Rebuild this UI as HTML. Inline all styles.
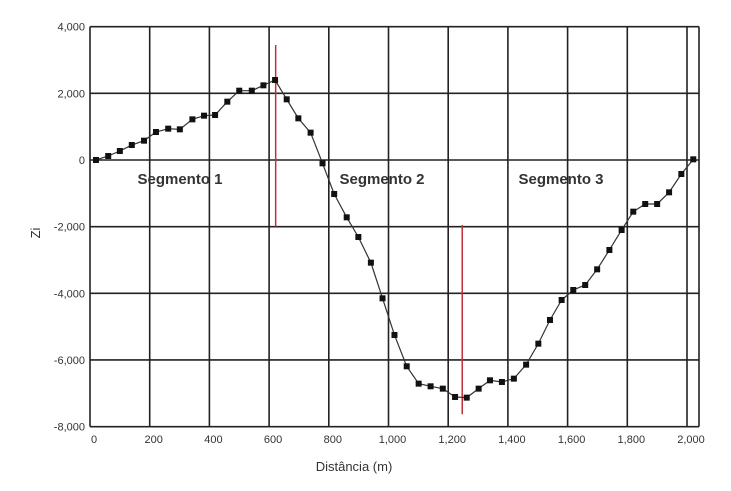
<!DOCTYPE html>
<html><head><meta charset="utf-8"><style>
body{margin:0;background:#fff;width:731px;height:486px;overflow:hidden}
text{font-family:"Liberation Sans",sans-serif;fill:#333}
</style></head><body>
<svg width="731" height="486">
<g id="grid"></g>
<g id="ticks"></g>
<g id="reds"></g>
<g id="series"></g>
<text x="180" y="184" text-anchor="middle" font-size="15" font-weight="bold">Segmento 1</text>
<text x="382" y="184" text-anchor="middle" font-size="15" font-weight="bold">Segmento 2</text>
<text x="561" y="184" text-anchor="middle" font-size="15" font-weight="bold">Segmento 3</text>
<text x="354" y="471" text-anchor="middle" font-size="13">Distância (m)</text>
<text transform="translate(40,233) rotate(-90)" text-anchor="middle" font-size="13">Zi</text>
</svg>
<script>
const xTicks=[0,200,400,600,800,1000,1200,1400,1600,1800,2000];
const xTickLabels=["0","200","400","600","800","1,000","1,200","1,400","1,600","1,800","2,000"];
const yTicks=[4000,2000,0,-2000,-4000,-6000,-8000];
const yTickLabels=["4,000","2,000","0","-2,000","-4,000","-6,000","-8,000"];
const dist=[20,61,100,140,181,221,262,301,343,382,419,460,500,542,581,620,659,698,739,779,818,860,899,941,980,1020,1061,1101,1141,1182,1223,1262,1302,1340,1380,1420,1461,1502,1541,1580,1619,1659,1699,1740,1781,1820,1860,1900,1940,1981,2021];
const zi=[0,120,270,450,580,840,940,920,1220,1330,1350,1750,2080,2080,2240,2400,1820,1250,820,-100,-1020,-1720,-2310,-3080,-4150,-5250,-6190,-6710,-6790,-6860,-7110,-7130,-6860,-6610,-6660,-6560,-6140,-5510,-4800,-4200,-3900,-3750,-3280,-2700,-2100,-1550,-1320,-1320,-970,-420,20];
const dividerX=[622,1247];
const dividerTop=[3450,-1950];
const dividerBottom=[-2000,-7630];
const NS="http://www.w3.org/2000/svg";
const X=d=>90+0.2985*d, Y=v=>160-v*0.03333;
function mk(tag,attrs,parent){const e=document.createElementNS(NS,tag);for(const k in attrs)e.setAttribute(k,attrs[k]);parent.appendChild(e);return e;}
const grid=document.getElementById('grid'),ticks=document.getElementById('ticks'),reds=document.getElementById('reds'),series=document.getElementById('series');
xTicks.forEach((t,i)=>{
 const l=mk('line',{x1:X(t),x2:X(t),y1:Y(4000),y2:Y(-8000),stroke:'#222','stroke-width':1.6},grid);
 
 
 const tx=mk('text',{x:X(t)+4,y:443,'text-anchor':'middle','font-size':11},ticks);tx.textContent=xTickLabels[i];
 
 
});
const rb=mk('line',{x1:699,x2:699,y1:Y(4000),y2:Y(-8000),stroke:'#222','stroke-width':1.6},grid);


yTicks.forEach((t,i)=>{
 const l=mk('line',{x1:X(0),x2:699,y1:Y(t),y2:Y(t),stroke:'#222','stroke-width':1.6},grid);
 
 
 const tx=mk('text',{x:85,y:Y(t)+4,'text-anchor':'end','font-size':11},ticks);tx.textContent=yTickLabels[i];
 
 
});
dividerX.forEach((d,i)=>{
 const l=mk('line',{x1:X(d),x2:X(d),y1:Y(dividerTop[i]),y2:Y(dividerBottom[i]),stroke:'#c0303a','stroke-width':1.5},reds);
 
 
});
const pl=mk('polyline',{points:dist.map((d,i)=>X(d)+','+Y(zi[i])).join(' '),fill:'none',stroke:'#333','stroke-width':1.2},series);


dist.forEach((d,i)=>{
 const r=mk('rect',{x:X(d)-3,y:Y(zi[i])-3,width:6,height:6,fill:'#111'},series);
 
 
});
</script>
</body></html>
